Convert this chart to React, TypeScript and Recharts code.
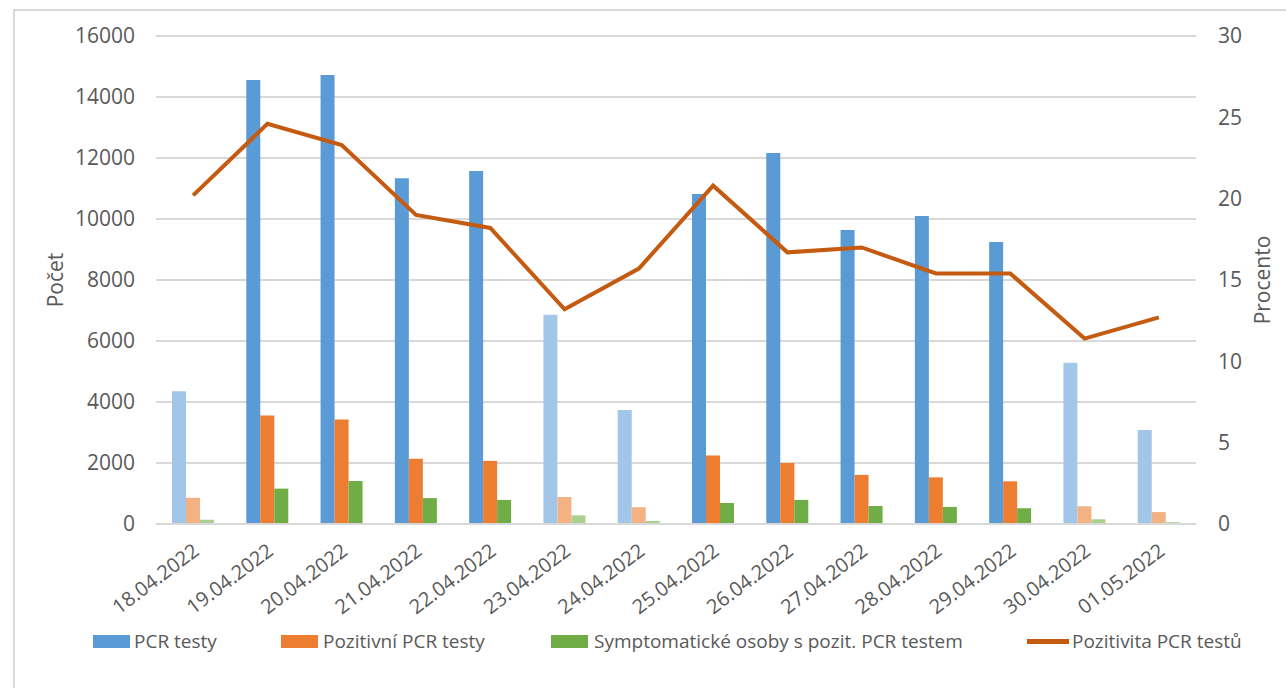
import React from 'react';
import { ComposedChart, Bar, Line, XAxis, YAxis, CartesianGrid, Legend, Cell } from 'recharts';

const dates = ['18.04.2022', '19.04.2022', '20.04.2022', '21.04.2022', '22.04.2022', '23.04.2022', '24.04.2022', '25.04.2022', '26.04.2022', '27.04.2022', '28.04.2022', '29.04.2022', '30.04.2022', '01.05.2022'];
const pcrTests = [4350, 14560, 14720, 11340, 11570, 6860, 3740, 10820, 12160, 9640, 10100, 9250, 5290, 3080];
const positiveTests = [860, 3560, 3430, 2140, 2070, 885, 550, 2250, 2000, 1610, 1530, 1400, 580, 390];
const symptomatic = [140, 1160, 1410, 850, 790, 285, 100, 690, 790, 590, 560, 515, 155, 60];
const positivity = [20.2, 24.6, 23.3, 19.0, 18.2, 13.2, 15.7, 20.8, 16.7, 17.0, 15.4, 15.4, 11.4, 12.7];
const dimmedDates = ['18.04.2022', '23.04.2022', '24.04.2022', '30.04.2022', '01.05.2022'];
const leftTicks = [0, 2000, 4000, 6000, 8000, 10000, 12000, 14000, 16000];
const rightTicks = [0, 5, 10, 15, 20, 25, 30];

const seriesNames = ['PCR testy', 'Pozitivní PCR testy', 'Symptomatické osoby s pozit. PCR testem', 'Pozitivita PCR testů'];

const data = dates.map((d, i) => ({
  date: d,
  pcr: pcrTests[i],
  pos: positiveTests[i],
  sym: symptomatic[i],
  rate: positivity[i],
}));

const FONT = '"Open Sans", "Noto Sans", sans-serif';
const TXT = '#595959';
const BLUE = '#5B9BD5';
const BLUE_L = '#A2C6E8';
const ORANGE = '#ED7D31';
const ORANGE_L = '#F4B183';
const GREEN = '#70AD47';
const GREEN_L = '#A9D18E';
const LINE = '#C55A11';

const XTick = (props: any) => {
  const { x, payload } = props;
  return (
    <g transform={`translate(${x + 3},${548})`}>
      <text x={0} y={0} dy="0.35em" textAnchor="end" transform="rotate(-37)" fill={TXT} fontSize={20} fontFamily={FONT}>
        {payload.value}
      </text>
    </g>
  );
};

const AxisTitle = (dxOff: number, text: string) => (props: any) => {
  const vb = props.viewBox || {};
  const cx = vb.x + dxOff;
  const cy = vb.y + vb.height / 2;
  return (
    <text x={cx} y={cy} textAnchor="middle" dominantBaseline="central" transform={`rotate(-90, ${cx}, ${cy})`} fill={TXT} fontSize={21} fontFamily={FONT}>
      {text}
    </text>
  );
};

const legendItems = [
  { name: seriesNames[0], color: BLUE, type: 'rect', left: 93, textLeft: 134 },
  { name: seriesNames[1], color: ORANGE, type: 'rect', left: 281, textLeft: 323 },
  { name: seriesNames[2], color: GREEN, type: 'rect', left: 551, textLeft: 594 },
  { name: seriesNames[3], color: LINE, type: 'line', left: 1027, textLeft: 1072 },
];

const LegendContent = () => (
  <div style={{ position: 'relative', width: 1286, height: 30, fontFamily: FONT }}>
    {legendItems.map((it) => (
      <React.Fragment key={it.name}>
        {it.type === 'rect' ? (
          <div style={{ position: 'absolute', left: it.left, top: 9, width: 37, height: 13, background: it.color }} />
        ) : (
          <div style={{ position: 'absolute', left: it.left, top: 13, width: 42, height: 5, background: it.color }} />
        )}
        <div style={{ position: 'absolute', left: it.textLeft, top: 0, height: 30, lineHeight: '30px', fontSize: 19, color: TXT, whiteSpace: 'nowrap' }}>
          {it.name}
        </div>
      </React.Fragment>
    ))}
  </div>
);

export default function App() {
  return (
    <div style={{ position: 'absolute', left: 0, top: 0, width: 1286, height: 688, overflow: 'hidden', background: '#fff' }}>
      <div style={{ position: 'absolute', left: 13, top: 9, width: 1400, height: 800, border: '2px solid #D9D9D9' }} />
      <div style={{ position: 'absolute', left: 0, top: 0 }}>
        <ComposedChart width={1286} height={688} data={data} margin={{ top: 36, right: 0, bottom: 64, left: 0 }} barGap={0} barSize={14}>
          <CartesianGrid vertical={false} stroke="#D9D9D9" strokeWidth={2} yAxisId="left" />
          <XAxis dataKey="date" height={100} tick={<XTick />} tickLine={false} axisLine={{ stroke: '#D9D9D9', strokeWidth: 2 }} interval={0} />
          <YAxis yAxisId="left" orientation="left" width={156} domain={[0, 16000]} ticks={leftTicks} tickLine={false} axisLine={false} tickMargin={15}
            tick={{ fill: TXT, fontSize: 21, fontFamily: FONT }} label={{ content: AxisTitle(55, 'Počet') }} />
          <YAxis yAxisId="right" orientation="right" width={90} domain={[0, 30]} ticks={rightTicks} tickLine={false} axisLine={false} tickMargin={16}
            tick={{ fill: TXT, fontSize: 21, fontFamily: FONT, textAnchor: 'start' }} label={{ content: AxisTitle(66, 'Procento') }} />
          <Legend layout="horizontal" verticalAlign="middle" align="center" wrapperStyle={{ top: 626, left: 0, width: 1286 }} content={<LegendContent />} />
          <Bar yAxisId="left" dataKey="pcr" name={seriesNames[0]} fill={BLUE} isAnimationActive={false}>
            {data.map((d) => <Cell key={d.date} fill={dimmedDates.includes(d.date) ? BLUE_L : BLUE} />)}
          </Bar>
          <Bar yAxisId="left" dataKey="pos" name={seriesNames[1]} fill={ORANGE} isAnimationActive={false}>
            {data.map((d) => <Cell key={d.date} fill={dimmedDates.includes(d.date) ? ORANGE_L : ORANGE} />)}
          </Bar>
          <Bar yAxisId="left" dataKey="sym" name={seriesNames[2]} fill={GREEN} isAnimationActive={false}>
            {data.map((d) => <Cell key={d.date} fill={dimmedDates.includes(d.date) ? GREEN_L : GREEN} />)}
          </Bar>
          <Line yAxisId="right" dataKey="rate" name={seriesNames[3]} stroke={LINE} strokeWidth={4} dot={false} activeDot={false} isAnimationActive={false} />
        </ComposedChart>
      </div>
    </div>
  );
}
